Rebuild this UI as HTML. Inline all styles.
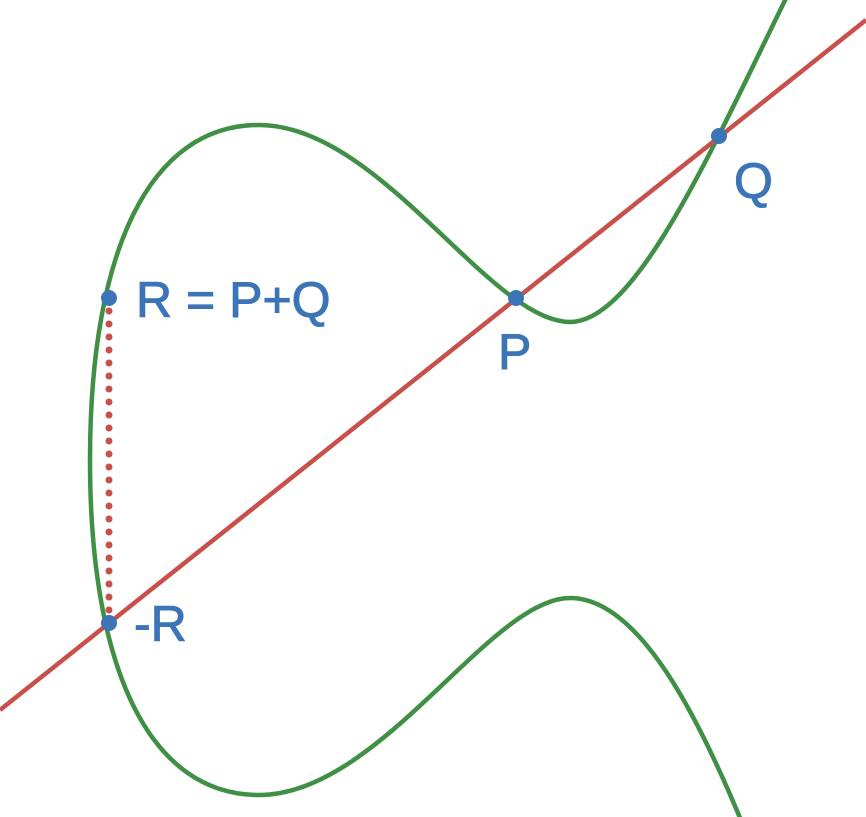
<!DOCTYPE html>
<html><head><style>html,body{margin:0;padding:0;background:#fff}svg{display:block}</style></head>
<body>
<svg width="866" height="817" viewBox="0 0 866 817" xmlns="http://www.w3.org/2000/svg">
<g fill="none" stroke="#3f8f45" stroke-width="4.5">
<path d="M90,460 C90,250 150,125 259,125 C380,125 490,322 570,322 C640,322 720,130 800,-30"/>
<path d="M90,460 C90,670 150,795 259,795 C380,795 490,598 570,598 C640,598 700,720 745,830"/>
</g>
<line x1="0" y1="710" x2="866" y2="20" stroke="#c9504a" stroke-width="4.5"/>
<line x1="109" y1="298" x2="109" y2="623" stroke="#c9504a" stroke-width="7" stroke-linecap="round" stroke-dasharray="0 13"/>
<g fill="#3c74b8">
<circle cx="109" cy="298" r="8"/>
<circle cx="516" cy="298" r="8"/>
<circle cx="719" cy="136" r="8"/>
<circle cx="109" cy="623" r="8"/>
</g>
<g fill="#3c74b8" stroke="#3c74b8" stroke-width="1" font-family="Liberation Sans, Arial, sans-serif" font-size="50">
<text x="136" y="317">R = P+Q</text>
<text x="498" y="369">P</text>
<text x="734" y="198">Q</text>
<text x="134" y="641">-R</text>
</g>
</svg>
</body></html>
